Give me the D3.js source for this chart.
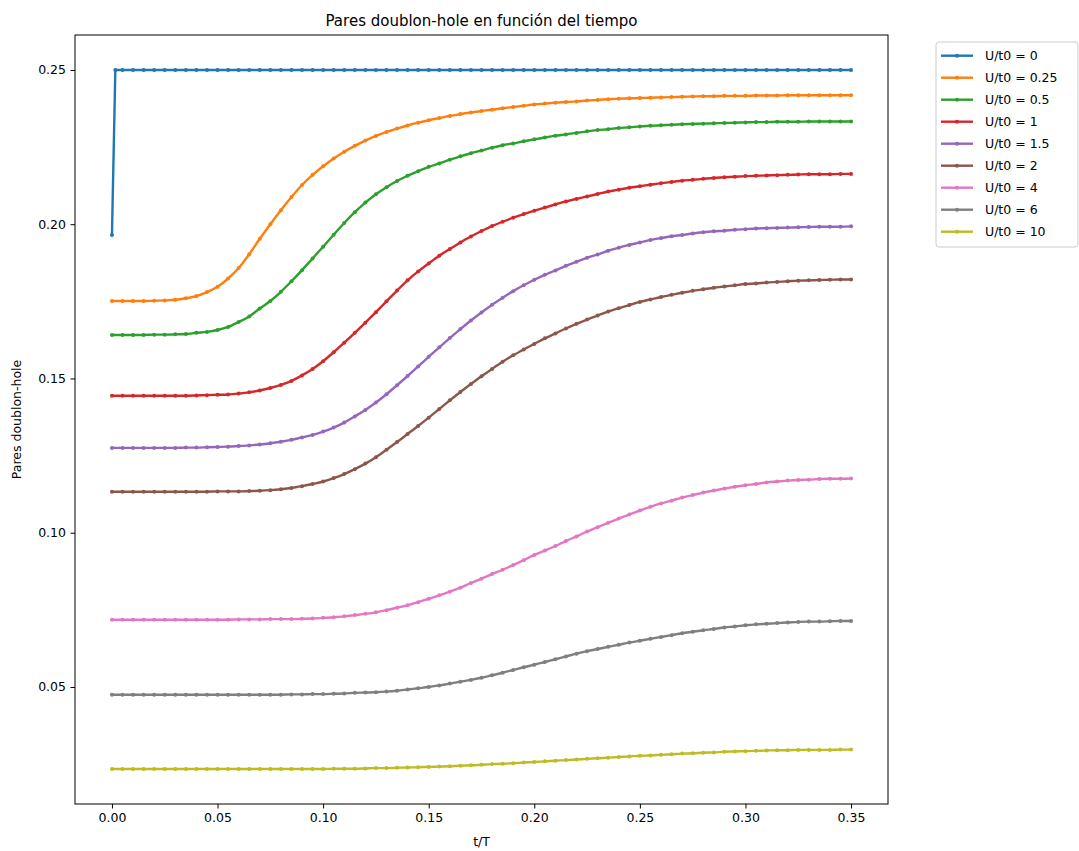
<!DOCTYPE html>
<html lang="es">
<head>
<meta charset="UTF-8">
<title>Pares doublon-hole en función del tiempo</title>
<script src="https://cdn.jsdelivr.net/npm/d3@7"></script>
<style>
  body { margin: 0; background: #fff; }
  svg { display: block; font-family: "DejaVu Sans", sans-serif; }
</style>
</head>
<body>
<svg id="chart" width="1079" height="851"></svg>
<script>
// time samples t/T (read every 0.005)
const tGrid = [
  0.000, 0.005, 0.010, 0.015, 0.020, 0.025, 0.030, 0.035, 0.040, 0.045,
  0.050, 0.055, 0.060, 0.065, 0.070, 0.075, 0.080, 0.085, 0.090, 0.095,
  0.100, 0.105, 0.110, 0.115, 0.120, 0.125, 0.130, 0.135, 0.140, 0.145,
  0.150, 0.155, 0.160, 0.165, 0.170, 0.175, 0.180, 0.185, 0.190, 0.195,
  0.200, 0.205, 0.210, 0.215, 0.220, 0.225, 0.230, 0.235, 0.240, 0.245,
  0.250, 0.255, 0.260, 0.265, 0.270, 0.275, 0.280, 0.285, 0.290, 0.295,
  0.300, 0.305, 0.310, 0.315, 0.320, 0.325, 0.330, 0.335, 0.340, 0.345, 0.350
];
// U/t0 = 0 jumps right after t = 0, so it gets one extra early sample
const tBlue = [0, 0.0016].concat(tGrid.slice(1));

const u0 = [
  0.1965, 0.25, 0.25, 0.25, 0.25, 0.25, 0.25, 0.25, 0.25, 0.25, 0.25, 0.25,
  0.25, 0.25, 0.25, 0.25, 0.25, 0.25, 0.25, 0.25, 0.25, 0.25, 0.25, 0.25,
  0.25, 0.25, 0.25, 0.25, 0.25, 0.25, 0.25, 0.25, 0.25, 0.25, 0.25, 0.25,
  0.25, 0.25, 0.25, 0.25, 0.25, 0.25, 0.25, 0.25, 0.25, 0.25, 0.25, 0.25,
  0.25, 0.25, 0.25, 0.25, 0.25, 0.25, 0.25, 0.25, 0.25, 0.25, 0.25, 0.25,
  0.25, 0.25, 0.25, 0.25, 0.25, 0.25, 0.25, 0.25, 0.25, 0.25, 0.25, 0.25
];
const u025 = [
  0.1751, 0.1751, 0.1751, 0.1751, 0.1752, 0.1753, 0.1755, 0.1760, 0.1767, 0.1780,
  0.1797, 0.1824, 0.1858, 0.1903, 0.1953, 0.2000, 0.2045, 0.2088, 0.2127, 0.2160,
  0.2188, 0.2213, 0.2235, 0.2254, 0.2271, 0.2286, 0.2299, 0.2310, 0.2320, 0.2329,
  0.2337, 0.2344, 0.2351, 0.2357, 0.2362, 0.2367, 0.2371, 0.2376, 0.2380, 0.2384,
  0.2388, 0.2391, 0.2394, 0.2396, 0.2398, 0.2401, 0.2403, 0.2405, 0.2407, 0.2408,
  0.2409, 0.2410, 0.2411, 0.2412, 0.2413, 0.2414, 0.2415, 0.2415, 0.2416, 0.2416,
  0.2416, 0.2417, 0.2417, 0.2417, 0.2418, 0.2418, 0.2418, 0.2418, 0.2418, 0.2418, 0.2418
];
const u05 = [
  0.1641, 0.1641, 0.1641, 0.1641, 0.1642, 0.1642, 0.1643, 0.1644, 0.1648, 0.1651,
  0.1657, 0.1667, 0.1683, 0.1701, 0.1727, 0.1751, 0.1781, 0.1815, 0.1851, 0.1889,
  0.1927, 0.1966, 0.2004, 0.2039, 0.2070, 0.2097, 0.2120, 0.2140, 0.2157, 0.2172,
  0.2186, 0.2197, 0.2209, 0.2220, 0.2230, 0.2239, 0.2248, 0.2256, 0.2262, 0.2269,
  0.2275, 0.2281, 0.2287, 0.2291, 0.2296, 0.2301, 0.2305, 0.2308, 0.2312, 0.2314,
  0.2317, 0.2319, 0.2321, 0.2322, 0.2324, 0.2325, 0.2326, 0.2327, 0.2328, 0.2329,
  0.2330, 0.2331, 0.2331, 0.2332, 0.2332, 0.2332, 0.2333, 0.2333, 0.2333, 0.2333, 0.2333
];
const u1 = [
  0.1444, 0.1444, 0.1444, 0.1444, 0.1444, 0.1444, 0.1444, 0.1444, 0.1445, 0.1446,
  0.1447, 0.1448, 0.1451, 0.1455, 0.1461, 0.1469, 0.1479, 0.1492, 0.1510, 0.1531,
  0.1556, 0.1585, 0.1616, 0.1648, 0.1681, 0.1715, 0.1750, 0.1785, 0.1818, 0.1847,
  0.1873, 0.1898, 0.1920, 0.1941, 0.1960, 0.1978, 0.1994, 0.2008, 0.2021, 0.2033,
  0.2044, 0.2054, 0.2064, 0.2074, 0.2082, 0.2090, 0.2098, 0.2106, 0.2112, 0.2118,
  0.2123, 0.2128, 0.2133, 0.2137, 0.2141, 0.2144, 0.2147, 0.2150, 0.2152, 0.2154,
  0.2156, 0.2157, 0.2158, 0.2159, 0.2160, 0.2161, 0.2162, 0.2162, 0.2162, 0.2163, 0.2163
];
const u15 = [
  0.1275, 0.1275, 0.1275, 0.1275, 0.1275, 0.1275, 0.1275, 0.1276, 0.1276, 0.1277,
  0.1278, 0.1279, 0.1281, 0.1283, 0.1286, 0.1290, 0.1295, 0.1301, 0.1309, 0.1317,
  0.1328, 0.1341, 0.1357, 0.1377, 0.1398, 0.1422, 0.1449, 0.1478, 0.1508, 0.1539,
  0.1570, 0.1601, 0.1631, 0.1660, 0.1688, 0.1714, 0.1739, 0.1762, 0.1783, 0.1802,
  0.1820, 0.1836, 0.1850, 0.1865, 0.1878, 0.1891, 0.1902, 0.1914, 0.1924, 0.1933,
  0.1941, 0.1949, 0.1955, 0.1961, 0.1965, 0.1970, 0.1974, 0.1977, 0.1979, 0.1982,
  0.1984, 0.1986, 0.1987, 0.1988, 0.1989, 0.1990, 0.1991, 0.1992, 0.1992, 0.1992, 0.1993
];
const u2 = [
  0.1133, 0.1133, 0.1133, 0.1133, 0.1133, 0.1133, 0.1133, 0.1133, 0.1133, 0.1133,
  0.1134, 0.1134, 0.1134, 0.1135, 0.1136, 0.1138, 0.1141, 0.1145, 0.1151, 0.1158,
  0.1166, 0.1177, 0.1190, 0.1206, 0.1224, 0.1245, 0.1269, 0.1294, 0.1320, 0.1346,
  0.1373, 0.1401, 0.1429, 0.1456, 0.1482, 0.1507, 0.1531, 0.1554, 0.1575, 0.1594,
  0.1612, 0.1630, 0.1646, 0.1662, 0.1677, 0.1691, 0.1704, 0.1717, 0.1728, 0.1738,
  0.1748, 0.1756, 0.1764, 0.1771, 0.1778, 0.1784, 0.1789, 0.1794, 0.1798, 0.1802,
  0.1806, 0.1808, 0.1811, 0.1813, 0.1815, 0.1817, 0.1818, 0.1819, 0.1820, 0.1821, 0.1821
];
const u4 = [
  0.0718, 0.0718, 0.0718, 0.0718, 0.0718, 0.0718, 0.0718, 0.0718, 0.0718, 0.0718,
  0.0718, 0.0718, 0.0719, 0.0719, 0.0719, 0.0720, 0.0720, 0.0720, 0.0721, 0.0722,
  0.0724, 0.0726, 0.0729, 0.0733, 0.0737, 0.0742, 0.0749, 0.0757, 0.0765, 0.0775,
  0.0786, 0.0797, 0.0809, 0.0822, 0.0837, 0.0851, 0.0866, 0.0880, 0.0895, 0.0911,
  0.0928, 0.0942, 0.0957, 0.0973, 0.0988, 0.1004, 0.1018, 0.1032, 0.1046, 0.1059,
  0.1072, 0.1084, 0.1095, 0.1104, 0.1114, 0.1122, 0.1130, 0.1137, 0.1143, 0.1149,
  0.1154, 0.1158, 0.1163, 0.1166, 0.1169, 0.1171, 0.1172, 0.1174, 0.1175, 0.1175, 0.1176
];
const u6 = [
  0.0475, 0.0475, 0.0475, 0.0475, 0.0475, 0.0475, 0.0475, 0.0475, 0.0475, 0.0475,
  0.0475, 0.0475, 0.0475, 0.0475, 0.0475, 0.0475, 0.0475, 0.0476, 0.0476, 0.0477,
  0.0477, 0.0478, 0.0479, 0.0481, 0.0482, 0.0483, 0.0485, 0.0488, 0.0492, 0.0496,
  0.0500, 0.0505, 0.0511, 0.0517, 0.0523, 0.0530, 0.0538, 0.0546, 0.0555, 0.0564,
  0.0572, 0.0581, 0.0590, 0.0599, 0.0608, 0.0616, 0.0623, 0.0630, 0.0637, 0.0644,
  0.0650, 0.0656, 0.0662, 0.0668, 0.0674, 0.0679, 0.0684, 0.0688, 0.0693, 0.0696,
  0.0700, 0.0703, 0.0705, 0.0707, 0.0709, 0.0711, 0.0712, 0.0712, 0.0713, 0.0714, 0.0714
];
const u10 = [
  0.0234, 0.0234, 0.0234, 0.0234, 0.0234, 0.0234, 0.0234, 0.0234, 0.0234, 0.0234,
  0.0234, 0.0234, 0.0234, 0.0234, 0.0234, 0.0234, 0.0234, 0.0234, 0.0234, 0.0234,
  0.0234, 0.0235, 0.0235, 0.0235, 0.0236, 0.0237, 0.0237, 0.0238, 0.0239, 0.0240,
  0.0241, 0.0242, 0.0243, 0.0245, 0.0246, 0.0248, 0.0250, 0.0251, 0.0253, 0.0255,
  0.0257, 0.0259, 0.0261, 0.0263, 0.0265, 0.0267, 0.0269, 0.0271, 0.0273, 0.0275,
  0.0277, 0.0278, 0.0280, 0.0282, 0.0284, 0.0285, 0.0287, 0.0288, 0.0290, 0.0291,
  0.0292, 0.0293, 0.0294, 0.0295, 0.0295, 0.0296, 0.0296, 0.0296, 0.0296, 0.0297, 0.0297
];

const labels = ["U/t0 = 0", "U/t0 = 0.25", "U/t0 = 0.5", "U/t0 = 1", "U/t0 = 1.5",
                "U/t0 = 2", "U/t0 = 4", "U/t0 = 6", "U/t0 = 10"];
const colors = ["#1f77b4", "#ff7f0e", "#2ca02c", "#d62728", "#9467bd",
                "#8c564b", "#e377c2", "#7f7f7f", "#bcbd22"];
const xTicks = [0.00, 0.05, 0.10, 0.15, 0.20, 0.25, 0.30, 0.35];
const yTicks = [0.05, 0.10, 0.15, 0.20, 0.25];

const series = [
  {label: labels[0], color: colors[0], t: tBlue, v: u0},
  {label: labels[1], color: colors[1], t: tGrid, v: u025},
  {label: labels[2], color: colors[2], t: tGrid, v: u05},
  {label: labels[3], color: colors[3], t: tGrid, v: u1},
  {label: labels[4], color: colors[4], t: tGrid, v: u15},
  {label: labels[5], color: colors[5], t: tGrid, v: u2},
  {label: labels[6], color: colors[6], t: tGrid, v: u4},
  {label: labels[7], color: colors[7], t: tGrid, v: u6},
  {label: labels[8], color: colors[8], t: tGrid, v: u10}
].map(s => ({...s, points: s.t.map((t, i) => [t, s.v[i]])}));

const axLeft = 75, axRight = 888, axTop = 35, axBottom = 804;

const svg = d3.select("#chart");

// matplotlib-like 5% margins around the data
const allT = series.flatMap(s => s.t);
const allV = series.flatMap(s => s.v);
const [t0, t1] = d3.extent(allT);
const [v0, v1] = d3.extent(allV);
const padT = (t1 - t0) * 0.05, padV = (v1 - v0) * 0.05;

const x = d3.scaleLinear().domain([t0 - padT, t1 + padT]).range([axLeft, axRight]);
const y = d3.scaleLinear().domain([v0 - padV, v1 + padV]).range([axBottom, axTop]);

const xAxis = svg.append("g")
    .attr("transform", `translate(0,${axBottom})`)
    .call(d3.axisBottom(x).tickValues(xTicks).tickFormat(d3.format(".2f"))
        .tickSize(4.5).tickSizeOuter(0).tickPadding(4.5));

const yAxis = svg.append("g")
    .attr("transform", `translate(${axLeft},0)`)
    .call(d3.axisLeft(y).tickValues(yTicks).tickFormat(d3.format(".2f"))
        .tickSize(4.5).tickSizeOuter(0).tickPadding(4.5));

[xAxis, yAxis].forEach(g => {
    g.select(".domain").remove();
    g.selectAll("line").attr("stroke", "#000").attr("stroke-width", 1);
    g.selectAll("text").attr("fill", "#000")
        .style("font-family", "'DejaVu Sans', sans-serif").style("font-size", "12.5px");
});

const smooth = d3.line().x(d => x(d[0])).y(d => y(d[1])).curve(d3.curveMonotoneX);
const straight = d3.line().x(d => x(d[0])).y(d => y(d[1]));

const plot = svg.append("g");
series.forEach((s, k) => {
    plot.append("path")
        .attr("d", (k === 0 ? straight : smooth)(s.points))
        .attr("fill", "none")
        .attr("stroke", s.color)
        .attr("stroke-width", 2.4);
    plot.append("g").selectAll("circle")
        .data(s.points)
        .enter().append("circle")
        .attr("cx", d => x(d[0]))
        .attr("cy", d => y(d[1]))
        .attr("r", 2)
        .attr("fill", s.color);
});

// frame
svg.append("rect")
    .attr("x", axLeft).attr("y", axTop)
    .attr("width", axRight - axLeft).attr("height", axBottom - axTop)
    .attr("fill", "none").attr("stroke", "#000").attr("stroke-width", 1);

svg.append("text")
    .attr("x", (axLeft + axRight) / 2).attr("y", 26)
    .attr("text-anchor", "middle")
    .style("font-size", "15px")
    .text("Pares doublon-hole en función del tiempo");

svg.append("text")
    .attr("x", (axLeft + axRight) / 2).attr("y", 846)
    .attr("text-anchor", "middle")
    .style("font-size", "12.5px")
    .text("t/T");

svg.append("text")
    .attr("transform", `translate(21,${(axTop + axBottom) / 2}) rotate(-90)`)
    .attr("text-anchor", "middle")
    .style("font-size", "12.5px")
    .text("Pares doublon-hole");

// legend
const legend = svg.append("g").attr("transform", "translate(936,42)");
legend.append("rect")
    .attr("width", 142).attr("height", 205).attr("rx", 3)
    .attr("fill", "#fff").attr("fill-opacity", 0.8)
    .attr("stroke", "#cccccc").attr("stroke-width", 1);

const item = legend.selectAll("g.item")
    .data(series)
    .enter().append("g")
    .attr("class", "item")
    .attr("transform", (d, i) => `translate(0,${13.7 + i * 22})`);

item.append("line")
    .attr("x1", 5).attr("x2", 37)
    .attr("stroke", d => d.color).attr("stroke-width", 2.4);
item.append("circle")
    .attr("cx", 21).attr("r", 2)
    .attr("fill", d => d.color);
item.append("text")
    .attr("x", 49).attr("dy", "0.35em")
    .style("font-size", "12.5px")
    .text(d => d.label);
</script>
</body>
</html>
